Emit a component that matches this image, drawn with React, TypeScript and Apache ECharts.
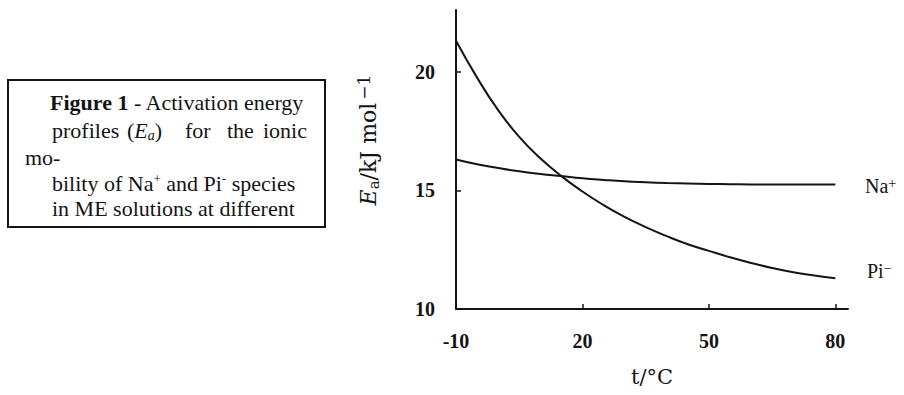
import React, { useEffect, useRef } from "react";
import * as echarts from "echarts";

const temps = [-10, -5, 0, 5, 10, 15, 20, 25, 30, 35, 40, 45, 50, 55, 60, 65, 70, 75, 80];
const piValues = [21.3, 19.75, 18.38, 17.25, 16.35, 15.6, 14.95, 14.38, 13.88, 13.45, 13.07, 12.73, 12.45, 12.18, 11.94, 11.73, 11.55, 11.41, 11.3];
const naValues = [16.3, 16.1, 15.94, 15.8, 15.69, 15.6, 15.51, 15.44, 15.38, 15.34, 15.31, 15.29, 15.27, 15.26, 15.25, 15.25, 15.25, 15.25, 15.25];
const xTickLabels = [-10, 20, 50, 80];
const yTickLabels = [10, 15, 20];

const INK = "#141414";
const SERIF = "'Liberation Serif', 'Times New Roman', serif";
const DJV = "'DejaVu Serif', serif";

export default function App() {
  const ref = useRef<HTMLDivElement>(null);
  useEffect(() => {
    if (!ref.current) return;
    const chart = echarts.init(ref.current, null, { renderer: "svg" });
    const captionStyle = { fontFamily: SERIF, fontSize: 22, fill: INK, verticalAlign: "middle" };
    const supRich = {
      sup: { fontFamily: SERIF, fontSize: 13, verticalAlign: "top", lineHeight: 12 },
    };
    chart.setOption({
      animation: false,
      backgroundColor: "#ffffff",
      textStyle: { fontFamily: SERIF, color: INK },
      grid: { left: 456, right: 56, top: 10, bottom: 86, containLabel: false, outerBoundsMode: "none" },
      xAxis: {
        type: "value",
        min: -10,
        max: 83,
        axisLine: { show: true, onZero: false, lineStyle: { color: INK, width: 2 } },
        axisTick: { show: true, inside: true, length: 5, lineStyle: { color: INK, width: 1.5 }, customValues: xTickLabels },
        axisLabel: {
          customValues: xTickLabels,
          fontFamily: SERIF,
          fontWeight: "bold",
          fontSize: 20,
          color: INK,
          margin: 22,
        },
        splitLine: { show: false },
      },
      yAxis: {
        type: "value",
        min: 10,
        max: 22.6,
        axisLine: { show: true, onZero: false, lineStyle: { color: INK, width: 2 } },
        axisTick: { show: true, inside: true, length: 5, lineStyle: { color: INK, width: 1.5 }, customValues: yTickLabels },
        axisLabel: {
          customValues: yTickLabels,
          fontFamily: SERIF,
          fontWeight: "bold",
          fontSize: 20,
          color: INK,
          margin: 21,
        },
        splitLine: { show: false },
      },
      series: [
        {
          name: "Na+",
          type: "line",
          data: temps.map((t, i) => [t, naValues[i]]),
          smooth: true,
          showSymbol: false,
          lineStyle: { color: INK, width: 2 },
        },
        {
          name: "Pi-",
          type: "line",
          data: temps.map((t, i) => [t, piValues[i]]),
          smooth: true,
          showSymbol: false,
          lineStyle: { color: INK, width: 2 },
        },
      ],
      graphic: [
        {
          type: "rect",
          shape: { x: 8, y: 80, width: 317, height: 147 },
          style: { fill: "none", stroke: INK, lineWidth: 2 },
        },
        {
          type: "text",
          style: {
            ...captionStyle,
            x: 50,
            y: 102,
            text: "{b|Figure 1} - Activation energy",
            rich: { b: { fontFamily: SERIF, fontSize: 22, fontWeight: "bold" } },
          },
        },
        { type: "text", style: { ...captionStyle, x: 52, y: 130, text: "profiles" } },
        {
          type: "text",
          style: {
            ...captionStyle,
            x: 127,
            y: 130,
            text: "({i|E}{sub|a})",
            rich: {
              i: { fontFamily: SERIF, fontSize: 22, fontStyle: "italic", lineHeight: 24 },
              sub: { fontFamily: SERIF, fontSize: 14, fontStyle: "italic", verticalAlign: "bottom", lineHeight: 14 },
            },
          },
        },
        { type: "text", style: { ...captionStyle, x: 185, y: 130, text: "for" } },
        { type: "text", style: { ...captionStyle, x: 227, y: 130, text: "the" } },
        { type: "text", style: { ...captionStyle, x: 307, y: 130, text: "ionic", align: "right" } },
        { type: "text", style: { ...captionStyle, x: 25, y: 157, text: "mo-" } },
        {
          type: "text",
          style: {
            ...captionStyle,
            x: 52,
            y: 183,
            text: "bility of Na{sup|+} and Pi{sup|-} species",
            rich: supRich,
          },
        },
        { type: "text", style: { ...captionStyle, x: 52, y: 208, text: "in ME solutions at different" } },
        {
          type: "text",
          x: 368,
          y: 140,
          rotation: Math.PI / 2,
          style: {
            x: 0,
            y: 0,
            align: "center",
            verticalAlign: "middle",
            fill: INK,
            fontFamily: DJV,
            fontSize: 22,
            text: "{i|E}{sub|a}/kJ mol{sup|−1}",
            rich: {
              i: { fontFamily: DJV, fontSize: 22, fontStyle: "italic", lineHeight: 26 },
              sub: { fontFamily: DJV, fontSize: 15, verticalAlign: "bottom", lineHeight: 14 },
              sup: { fontFamily: DJV, fontSize: 17, verticalAlign: "top", lineHeight: 14, padding: [0, 0, 0, 3] },
            },
          },
        },
        {
          type: "text",
          style: {
            x: 652,
            y: 377,
            align: "center",
            verticalAlign: "middle",
            fill: INK,
            fontFamily: DJV,
            fontSize: 21,
            text: "t/°C",
          },
        },
        {
          type: "text",
          style: {
            x: 865,
            y: 186,
            align: "left",
            verticalAlign: "middle",
            fill: INK,
            fontFamily: SERIF,
            fontSize: 20,
            text: "Na{sup|+}",
            rich: { sup: { fontFamily: SERIF, fontSize: 14, verticalAlign: "top", lineHeight: 12 } },
          },
        },
        {
          type: "text",
          style: {
            x: 867,
            y: 271,
            align: "left",
            verticalAlign: "middle",
            fill: INK,
            fontFamily: SERIF,
            fontSize: 20,
            text: "Pi{sup|−}",
            rich: { sup: { fontFamily: SERIF, fontSize: 14, verticalAlign: "top", lineHeight: 12 } },
          },
        },
      ],
    });
    return () => chart.dispose();
  }, []);
  return (
    <div
      ref={ref}
      style={{ position: "fixed", left: 0, top: 0, width: 904, height: 395, background: "#fff" }}
    />
  );
}
